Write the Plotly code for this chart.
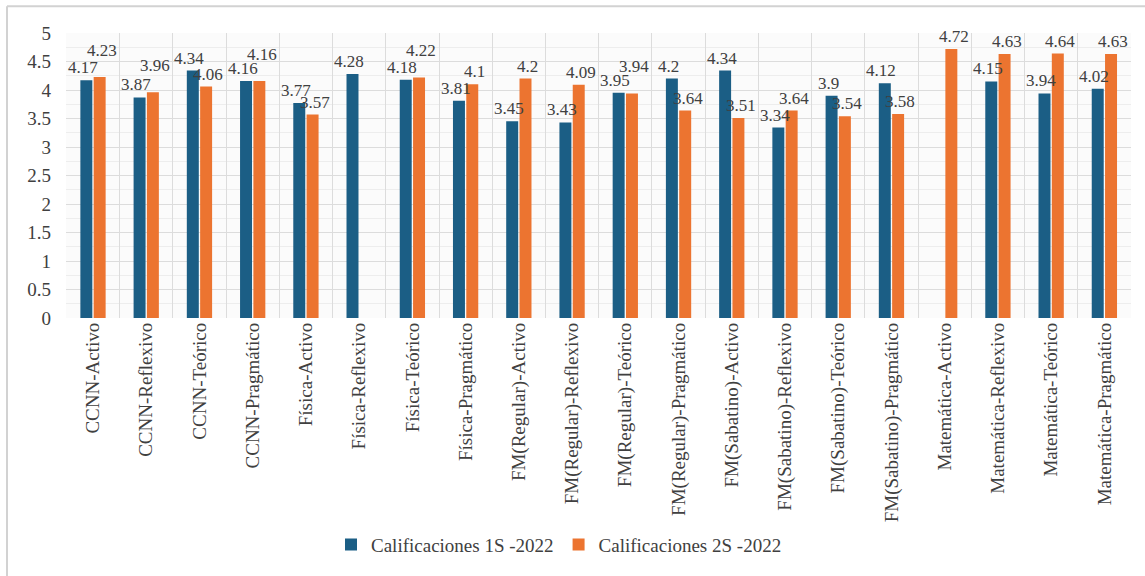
import plotly.graph_objects as go

# Learning-style categories per subject group
categorias = [
    "CCNN-Activo", "CCNN-Reflexivo", "CCNN-Teórico", "CCNN-Pragmático",
    "Física-Activo", "Física-Reflexivo", "Física-Teórico", "Física-Pragmático",
    "FM(Regular)-Activo", "FM(Regular)-Reflexivo", "FM(Regular)-Teórico", "FM(Regular)-Pragmático",
    "FM(Sabatino)-Activo", "FM(Sabatino)-Reflexivo", "FM(Sabatino)-Teórico", "FM(Sabatino)-Pragmático",
    "Matemática-Activo", "Matemática-Reflexivo", "Matemática-Teórico", "Matemática-Pragmático",
]

# Average grades per semester (None = no data for that category)
calif_1s = [4.17, 3.87, 4.34, 4.16, 3.77, 4.28, 4.18, 3.81, 3.45, 3.43,
            3.95, 4.2, 4.34, 3.34, 3.9, 4.12, None, 4.15, 3.94, 4.02]
calif_2s = [4.23, 3.96, 4.06, 4.16, 3.57, None, 4.22, 4.1, 4.2, 4.09,
            3.94, 3.64, 3.51, 3.64, 3.54, 3.58, 4.72, 4.63, 4.64, 4.63]

y_ticks = [0, 0.5, 1, 1.5, 2, 2.5, 3, 3.5, 4, 4.5, 5]

nombres = ["Calificaciones 1S -2022", "Calificaciones 2S -2022"]
colores = ["#1B5E85", "#EC7430"]

SERIF = "Liberation Serif"
TXT = "#404040"

fig = go.Figure()
for nombre, valores, color in zip(nombres, [calif_1s, calif_2s], colores):
    fig.add_trace(go.Bar(
        x=categorias,
        y=valores,
        name=nombre,
        marker=dict(color=color, line=dict(width=0)),
    ))

# Value labels above each bar, nudged sideways toward their own bar.
# When both values of a group are close, the second label is lifted
# so the pair stays readable.
for serie, (valores, dx) in enumerate(zip([calif_1s, calif_2s], [-10, 9])):
    for i, (cat, v) in enumerate(zip(categorias, valores)):
        if v is None:
            continue
        otro = calif_1s[i] if serie == 1 else None
        lift = 14 if (otro is not None and abs(v - otro) < 0.2) else 0
        fig.add_annotation(
            x=cat, y=v, xref="x", yref="y",
            text=f"{v:g}", showarrow=False,
            xanchor="center", yanchor="bottom",
            xshift=dx, yshift=1 + lift,
            font=dict(family=SERIF, size=17, color=TXT),
        )

# Plot area: x 66..1131 px, y 33..321 px
L, R, T, B = 66, 14, 33, 255
W, H = 1145, 576
pw, ph = W - L - R, H - T - B

def px_x(p):
    return (p - L) / pw

def px_y(p):
    return (H - B - p) / ph

# Outer chart frame (left and top edges)
fig.add_shape(type="line", xref="paper", yref="paper",
              x0=px_x(7), x1=px_x(7), y0=px_y(6), y1=px_y(590),
              line=dict(color="#D2D2D2", width=2))
fig.add_shape(type="line", xref="paper", yref="paper",
              x0=px_x(7), x1=px_x(1160), y0=px_y(6), y1=px_y(6),
              line=dict(color="#D2D2D2", width=2))

fig.update_layout(
    width=W, height=H,
    margin=dict(l=L, r=R, t=T, b=B),
    paper_bgcolor="white",
    plot_bgcolor="#FBFBFB",
    barmode="group",
    bargap=0.5,
    bargroupgap=0.1,
    font=dict(family=SERIF, color=TXT),
    xaxis=dict(
        type="category",
        tickangle=-90,
        tickfont=dict(family=SERIF, size=19, color=TXT),
        showgrid=True,
        gridcolor="#DCDCDC",
        gridwidth=1,
        tickson="boundaries",
        ticks="",
        showline=False,
        zeroline=False,
        automargin=False,
    ),
    yaxis=dict(
        range=[0, 5],
        tickvals=y_ticks,
        ticktext=[f"{v:g}" for v in y_ticks],
        tickfont=dict(family=SERIF, size=19, color=TXT),
        showgrid=True,
        gridcolor="#DCDCDC",
        gridwidth=1,
        minor=dict(dtick=0.25, showgrid=True, gridcolor="#EDEDED", gridwidth=1),
        zeroline=False,
        showline=False,
        ticks="",
        ticklabelstandoff=14,
        automargin=False,
    ),
    legend=dict(
        orientation="h",
        x=px_x(331), xanchor="left",
        y=px_y(550), yanchor="middle",
        font=dict(family=SERIF, size=19, color=TXT),
        itemwidth=30,
        bgcolor="rgba(0,0,0,0)",
    ),
    showlegend=True,
)

fig.write_html("out.html")
